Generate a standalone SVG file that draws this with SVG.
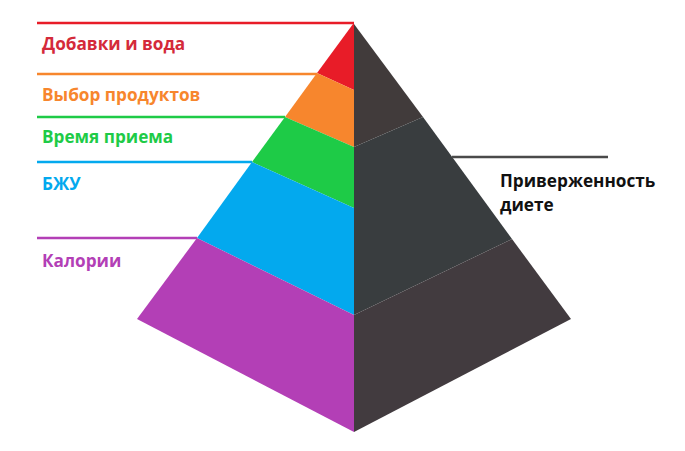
<svg xmlns="http://www.w3.org/2000/svg" width="685" height="451" viewBox="0 0 685 451">
<style>
.t{font-family:"Open Sans","DejaVu Sans",sans-serif;font-weight:bold;font-size:17.2px}
.ln{stroke-width:2.5;fill:none}
</style>
<rect width="685" height="451" fill="#ffffff"/>
<g id="pyramid">
<polygon points="353,24 317,73 354,90 354,24" fill="#e81c28"/>
<polygon points="317,73 285,117 354,147 354,90" fill="#f7862d"/>
<polygon points="285,117 252,162 354,208 354,147" fill="#1ecb47"/>
<polygon points="252,162 197,238 354,315 354,208" fill="#03a9ee"/>
<polygon points="197,238 137,319 354,432 354,315" fill="#b33fb6"/>
<polygon points="354,24 423,117 354,147" fill="#413b3b"/>
<polygon points="354,147 423,117 512,239 354,315" fill="#393d3f"/>
<polygon points="354,315 512,239 571,319 354,432" fill="#423b3f"/>
</g>
<g id="connectors">
<line class="ln" x1="37" y1="23" x2="354" y2="23" stroke="#e81c28"/>
<line class="ln" x1="37" y1="74" x2="317" y2="74" stroke="#f7862d"/>
<line class="ln" x1="37" y1="117" x2="285" y2="117" stroke="#1ecb47"/>
<line class="ln" x1="37" y1="162" x2="252" y2="162" stroke="#03a9ee"/>
<line class="ln" x1="37" y1="238" x2="197" y2="238" stroke="#b33fb6"/>
<line class="ln" x1="452" y1="157" x2="608" y2="157" stroke="#4a4a4a"/>
</g>
<g id="labels">
<text class="t" x="42" y="50" fill="#d42a3a">Добавки и вода</text>
<text class="t" x="42" y="101" fill="#f7862d">Выбор продуктов</text>
<text class="t" x="42" y="143" fill="#1ecb47">Время приема</text>
<text class="t" x="42" y="190" fill="#03a9ee">БЖУ</text>
<text class="t" x="42" y="267" fill="#b33fb6">Калории</text>
<text class="t" x="500" y="187" fill="#111111">Приверженность</text>
<text class="t" x="500" y="211" fill="#111111">диете</text>
</g>
</svg>
